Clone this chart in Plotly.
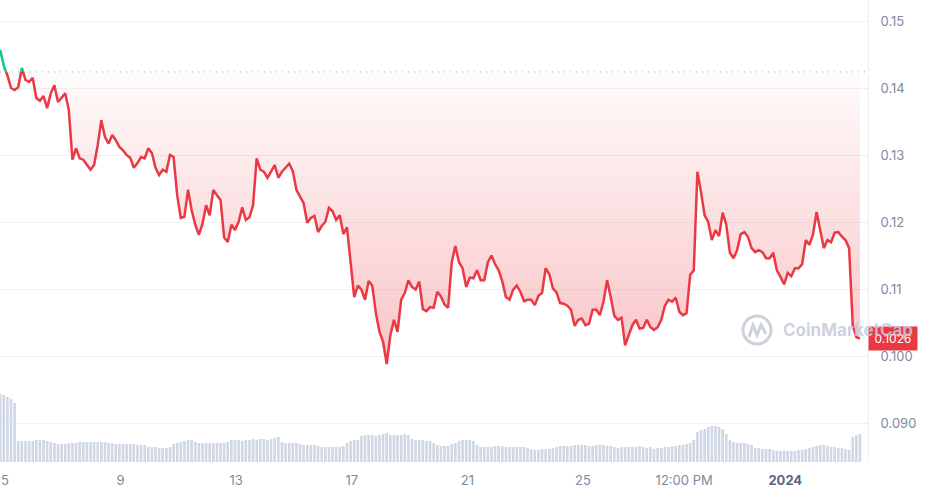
import plotly.graph_objects as go
import pandas as pd

# ---------------- data ----------------
start_time = "2023-12-04 20:00"
step = "3h"

price = [
    0.1457, 0.1433, 0.1419, 0.1400, 0.1397, 0.1401, 0.1430, 0.1412, 0.1409, 0.1415,
    0.1385, 0.1381, 0.1388, 0.1370, 0.1392, 0.1404, 0.1379, 0.1386, 0.1392, 0.1367,
    0.1293, 0.1310, 0.1295, 0.1293, 0.1285, 0.1278, 0.1285, 0.1315, 0.1352, 0.1327,
    0.1317, 0.1330, 0.1322, 0.1312, 0.1307, 0.1300, 0.1296, 0.1281, 0.1288, 0.1297,
    0.1295, 0.1310, 0.1303, 0.1281, 0.1270, 0.1278, 0.1275, 0.1300, 0.1297, 0.1240,
    0.1206, 0.1208, 0.1248, 0.1218, 0.1196, 0.1181, 0.1197, 0.1225, 0.1210, 0.1248,
    0.1240, 0.1233, 0.1177, 0.1170, 0.1196, 0.1188, 0.1200, 0.1222, 0.1203, 0.1207,
    0.1225, 0.1295, 0.1278, 0.1275, 0.1266, 0.1275, 0.1285, 0.1266, 0.1275, 0.1281,
    0.1287, 0.1276, 0.1248, 0.1238, 0.1228, 0.1199, 0.1206, 0.1209, 0.1185, 0.1194,
    0.1200, 0.1221, 0.1216, 0.1203, 0.1210, 0.1182, 0.1192, 0.1140, 0.1088, 0.1105,
    0.1099, 0.1084, 0.1112, 0.1105, 0.1064, 0.1036, 0.1021, 0.0988, 0.1031, 0.1054,
    0.1036, 0.1084, 0.1094, 0.1113, 0.1103, 0.1099, 0.1111, 0.1070, 0.1067, 0.1073,
    0.1072, 0.1096, 0.1089, 0.1077, 0.1072, 0.1140, 0.1164, 0.1140, 0.1131, 0.1103,
    0.1117, 0.1116, 0.1128, 0.1113, 0.1113, 0.1140, 0.1150, 0.1137, 0.1128, 0.1111,
    0.1088, 0.1084, 0.1099, 0.1105, 0.1096, 0.1082, 0.1084, 0.1084, 0.1076, 0.1090,
    0.1094, 0.1131, 0.1122, 0.1101, 0.1095, 0.1079, 0.1078, 0.1075, 0.1069, 0.1045,
    0.1054, 0.1056, 0.1046, 0.1048, 0.1069, 0.1069, 0.1061, 0.1081, 0.1113, 0.1088,
    0.1060, 0.1054, 0.1057, 0.1016, 0.1030, 0.1046, 0.1054, 0.1041, 0.1042, 0.1054,
    0.1043, 0.1039, 0.1043, 0.1054, 0.1075, 0.1084, 0.1081, 0.1087, 0.1066, 0.1061,
    0.1064, 0.1121, 0.1128, 0.1275, 0.1245, 0.1210, 0.1200, 0.1173, 0.1188, 0.1179,
    0.1214, 0.1196, 0.1154, 0.1146, 0.1158, 0.1182, 0.1185, 0.1178, 0.1161, 0.1155,
    0.1158, 0.1155, 0.1146, 0.1146, 0.1154, 0.1128, 0.1118, 0.1107, 0.1124, 0.1119,
    0.1131, 0.1131, 0.1137, 0.1173, 0.1166, 0.1181, 0.1215, 0.1188, 0.1161, 0.1173,
    0.1170, 0.1184, 0.1185, 0.1178, 0.1173, 0.1161, 0.1046, 0.1028, 0.1026,
]

volume_100k = [
    68, 67, 65, 63, 59,
    21, 21, 21, 21, 21, 22, 22, 22, 21,
    20, 19, 18, 18, 18,
    19, 19, 19, 20, 20, 20, 20,
    20, 20, 20, 20, 19, 19,
    18, 18, 18, 18, 18, 18, 17, 17, 17,
    15, 15, 15, 14, 14, 14, 15, 18,
    19, 20, 21, 22, 22, 20,
    19, 19, 19, 19, 19, 19, 19, 19, 20,
    22, 22, 22, 21, 22, 22,
    23, 22, 23, 23, 22, 23, 24, 25,
    20, 19, 19, 19, 19,
    18, 17, 17, 17, 17, 16,
    15, 15, 15, 15, 15, 15, 16,
    19, 21, 22, 22,
    26, 27, 27, 27, 26, 27, 28,
    29,
    27, 27, 27, 27, 28, 27,
    23, 22, 22, 22, 21, 21,
    19, 17, 16, 16, 16,
    18, 19, 21,
    22, 22, 22, 21,
    17, 15, 15, 15, 15,
    16, 16, 16, 15, 15, 15, 15, 15, 15, 14,
    13, 12, 12, 13, 13, 13, 14,
    15, 16, 16, 16, 16, 17, 17, 17, 17, 16, 16, 17, 17, 17, 16, 16, 15,
    14, 15, 15, 15, 15, 15, 16, 15, 14, 15,
    13, 14, 14, 15, 15, 16, 16, 17, 17, 18,
    19,
    22,
    30, 32, 33,
    35, 36, 36, 35,
    33,
    28,
    22,
    20, 19, 19, 19, 18, 17,
    14, 14, 13, 13, 13, 12,
    11, 11, 11, 11, 11, 11, 12, 12, 13, 14,
    15, 16, 17, 17, 16,
    15, 15, 14, 14, 13,
    12,
    25, 27, 28,
]

baseline_price = 0.1424

y_tick_vals = [0.15, 0.14, 0.13, 0.12, 0.11, 0.10, 0.09]
y_tick_text = ["0.15", "0.14", "0.13", "0.12", "0.11", "0.100", "0.090"]

x_tick_vals = ["2023-12-05", "2023-12-09", "2023-12-13", "2023-12-17",
               "2023-12-21", "2023-12-25", "2023-12-28 12:00", "2024-01-01"]
x_tick_text = ["5", "9", "13", "17", "21", "25", "12:00 PM",
               "<span style='color:#58667e'><b>2024</b></span>"]

# ---------------- figure ----------------
times = pd.date_range(start_time, periods=len(price), freq=step)
n = len(price)

RED = "#ea3943"
GREEN = "#16c784"
AXIS_TXT = "#808a9d"
GRID = "#eff1f4"
FONT = "Inter, Roboto, sans-serif"

y_min, y_max = 0.084179, 0.153134
frac = (baseline_price - y_min) / (y_max - y_min)

fig = go.Figure()

# baseline for the fill
fig.add_trace(go.Scatter(
    x=times, y=[baseline_price] * n, mode="lines",
    line=dict(width=0, color="rgba(0,0,0,0)"), hoverinfo="skip",
    showlegend=False, xaxis="x", yaxis="y"))

# gradient fill between baseline and price (below baseline only)
fig.add_trace(go.Scatter(
    x=times, y=[min(p, baseline_price) for p in price], mode="lines",
    line=dict(width=0, color="rgba(0,0,0,0)"), fill="tonexty",
    fillgradient=dict(type="vertical",
                      colorscale=[[0, "rgba(234,57,67,0.30)"],
                                  [1, "rgba(234,57,67,0.02)"]],
                      start=0.098, stop=baseline_price),
    hoverinfo="skip", showlegend=False, xaxis="x", yaxis="y"))

# volume bars
fig.add_trace(go.Bar(
    x=times, y=volume_100k, marker=dict(color="#cfd6e4", line=dict(width=0)),
    showlegend=False, xaxis="x", yaxis="y2", hoverinfo="skip"))

# red part of the price line (below baseline)
fig.add_trace(go.Scatter(
    x=times, y=price, mode="lines", line=dict(color=RED, width=2.5),
    showlegend=False, xaxis="x", yaxis="y4"))

# green part of the price line (above baseline)
fig.add_trace(go.Scatter(
    x=times, y=price, mode="lines", line=dict(color=GREEN, width=2.5),
    showlegend=False, xaxis="x", yaxis="y3"))

x_start = pd.Timestamp("2023-12-04 19:51")
x_end = pd.Timestamp("2024-01-03 20:41")

WM = "rgba(195,201,214,0.85)"

fig.update_layout(
    width=928, height=495, autosize=False,
    margin=dict(l=0, r=60, t=0, b=33, pad=0),
    paper_bgcolor="white", plot_bgcolor="rgba(0,0,0,0)",
    bargap=0.28,
    font=dict(family=FONT, size=13, color=AXIS_TXT),
    xaxis=dict(
        type="date", range=[x_start, x_end], domain=[0, 1],
        tickvals=x_tick_vals, ticktext=x_tick_text,
        showgrid=False, zeroline=False, showline=False,
        ticks="outside", ticklen=6, tickcolor="rgba(0,0,0,0)",
        tickfont=dict(family=FONT, size=13, color=AXIS_TXT),
        anchor="y",
    ),
    yaxis=dict(
        domain=[0, 1], range=[y_min, y_max], side="right",
        tickvals=y_tick_vals, ticktext=y_tick_text,
        showgrid=True, gridcolor=GRID, gridwidth=1, zeroline=False,
        showline=True, linecolor=GRID, linewidth=1,
        ticks="outside", ticklen=9, tickcolor="rgba(0,0,0,0)",
        tickfont=dict(family=FONT, size=13, color=AXIS_TXT),
        anchor="x",
    ),
    yaxis2=dict(overlaying="y", range=[0, 462], visible=False, anchor="x"),
    yaxis3=dict(domain=[frac, 1], range=[baseline_price, y_max],
                visible=False, anchor="x"),
    yaxis4=dict(domain=[0, frac], range=[y_min, baseline_price],
                visible=False, anchor="x"),
    shapes=[
        dict(type="line", xref="paper", x0=0, x1=1, yref="y",
             y0=baseline_price, y1=baseline_price,
             line=dict(color="#9ea5b1", width=1, dash="1px,5px"), layer="above"),
        # watermark logo circle
        dict(type="circle", xref="paper", yref="paper",
             x0=743 / 868, x1=771 / 868, y0=(462 - 344) / 462, y1=(462 - 316) / 462,
             line=dict(color=WM, width=3), layer="above"),
        dict(type="path", xref="paper", yref="paper",
             path=("M {:.4f},{:.4f} L {:.4f},{:.4f} L {:.4f},{:.4f} L {:.4f},{:.4f} L {:.4f},{:.4f}"
                   .format(749 / 868, (462 - 337) / 462, 753 / 868, (462 - 325) / 462,
                           757 / 868, (462 - 335) / 462, 761 / 868, (462 - 325) / 462,
                           766 / 868, (462 - 334) / 462)),
             line=dict(color=WM, width=3), layer="above"),
    ],
)

last_price = price[-1]
fig.add_annotation(
    xref="paper", x=1.0, xanchor="left", yref="y", y=last_price, yanchor="middle",
    text="{:.4f}".format(last_price), showarrow=False,
    bgcolor=RED, font=dict(family=FONT, size=12, color="white"),
    width=46, height=21, borderpad=1)

fig.add_annotation(
    xref="paper", x=781 / 868, xanchor="left", yref="paper",
    y=(462 - 330) / 462, yanchor="middle",
    text="<b>CoinMarketCap</b>", showarrow=False,
    font=dict(family=FONT, size=17, color=WM))

fig.write_html("out.html",
               config={"displayModeBar": False},
               post_script="document.body.style.margin='0px';document.body.style.overflow='hidden';")
